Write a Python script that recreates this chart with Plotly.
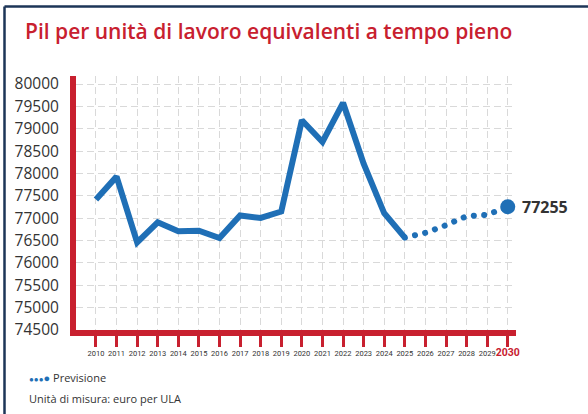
import plotly.graph_objects as go

# ---- data ----
years_actual = list(range(2010, 2026))
values_actual = [77420, 77930, 76460, 76910, 76710, 76720, 76555, 77060, 77005,
                 77150, 79190, 78705, 79580, 78220, 77110, 76565]
years_forecast = list(range(2025, 2031))
values_forecast = [76565, 76673, 76844, 77046, 77078, 77255]
tick_years = list(range(2010, 2031))
y_ticks = list(range(74500, 80001, 500))

TITLE = "Pil per unità di lavoro equivalenti a tempo pieno"
LEGEND_LABEL = "Previsione"
UNIT_NOTE = "Unità di misura: euro per ULA"

RED = "#c8202f"
BLUE = "#1f6fb6"
NAVY = "#1c3557"
TXT = "#333333"

W, H = 588, 414
ML, MR, MT, MB = 76, 72, 76, 84
PW, PH = W - ML - MR, H - MT - MB


def px_to_paper_x(px):
    return (px - ML) / PW


def px_to_paper_y(py):
    return (H - MB - py) / PH


ticktext = [str(y) for y in tick_years[:-1]] + [
    f"<b><span style='color:{RED};font-size:10.5px'>{tick_years[-1]}</span></b>"
]

fig = go.Figure()

fig.add_trace(go.Scatter(
    x=years_actual, y=values_actual, mode="lines",
    line=dict(color=BLUE, width=6), hoverinfo="skip", showlegend=False,
))
fig.add_trace(go.Scatter(
    x=years_forecast, y=values_forecast, mode="lines",
    line=dict(color=BLUE, width=6, dash="0.1px,10.3px"), hoverinfo="skip", showlegend=False,
))
fig.add_trace(go.Scatter(
    x=[years_forecast[-1]], y=[values_forecast[-1]], mode="markers",
    marker=dict(color=BLUE, size=15), hoverinfo="skip", showlegend=False,
))

fig.add_annotation(
    x=years_forecast[-1], y=values_forecast[-1], xref="x", yref="y",
    text=f"<b>{values_forecast[-1]}</b>", showarrow=False,
    xanchor="left", yanchor="middle", xshift=12,
    font=dict(family="Open Sans", size=16, color=TXT),
)

fig.add_annotation(
    x=px_to_paper_x(27), y=px_to_paper_y(377), xref="paper", yref="paper",
    text=f"<span style='color:{BLUE};font-size:8px'>●●●</span><span style='color:{BLUE};font-size:11px'>●</span> {LEGEND_LABEL}",
    showarrow=False, xanchor="left", yanchor="middle",
    font=dict(family="Open Sans", size=11, color=TXT),
)
fig.add_annotation(
    x=px_to_paper_x(27), y=px_to_paper_y(398), xref="paper", yref="paper",
    text=UNIT_NOTE, showarrow=False, xanchor="left", yanchor="middle",
    font=dict(family="Open Sans", size=11, color=TXT),
)

# frame border (top and left)
fig.add_shape(type="line", xref="paper", yref="paper",
              x0=px_to_paper_x(4.5), x1=px_to_paper_x(W + 5),
              y0=px_to_paper_y(6.5), y1=px_to_paper_y(6.5),
              line=dict(color=NAVY, width=2.5))
fig.add_shape(type="line", xref="paper", yref="paper",
              x0=px_to_paper_x(4.5), x1=px_to_paper_x(4.5),
              y0=px_to_paper_y(6.5), y1=px_to_paper_y(H + 5),
              line=dict(color=NAVY, width=2.5))

fig.update_layout(
    width=W, height=H,
    margin=dict(l=ML, r=MR, t=MT, b=MB),
    paper_bgcolor="white", plot_bgcolor="white",
    title=dict(
        text=TITLE, xref="container", yref="container",
        x=25 / W, xanchor="left", y=1 - 32 / H, yanchor="middle",
        font=dict(family="Open Sans", size=21, color=RED, weight=600),
    ),
    hovermode=False,
    xaxis=dict(
        range=[2009.03, 2030.4],
        tickmode="array", tickvals=tick_years, ticktext=ticktext,
        showline=True, linecolor=RED, linewidth=6,
        ticks="outside", ticklen=11, tickwidth=2.5, tickcolor=RED,
        tickfont=dict(family="Roboto", size=7.5, color=TXT),
        showgrid=True, gridcolor="#d9d9d9", gridwidth=1.3, griddash="7px,4px",
        zeroline=False, fixedrange=True, tickangle=0,
    ),
    yaxis=dict(
        range=[74500, 80180],
        tickmode="array", tickvals=y_ticks, tickformat="d",
        showline=True, linecolor=RED, linewidth=6,
        ticks="", ticklabelstandoff=8,
        tickfont=dict(family="Open Sans", size=15.5, color=TXT),
        showgrid=True, gridcolor="#d9d9d9", gridwidth=1.3, griddash="7px,4px",
        zeroline=False, fixedrange=True,
    ),
)

post = """
document.body.style.margin = '0';
document.querySelectorAll('.scatterlayer .trace:nth-child(2) path.js-line').forEach(function(p){
  p.style.strokeLinecap = 'round';
});
"""

fig.write_html("out.html", post_script=post, config={"displayModeBar": False})
